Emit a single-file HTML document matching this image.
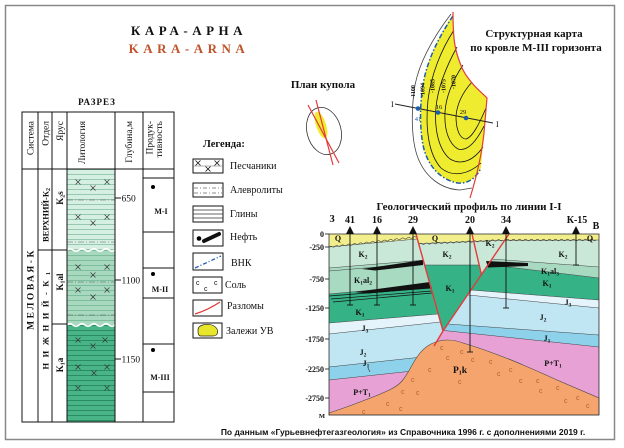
<!DOCTYPE html>
<html><head><meta charset="utf-8"><style>
html,body{margin:0;padding:0;background:#fff;}
svg{display:block;}
text{font-family:"Liberation Serif","DejaVu Serif",serif;fill:#111;}
.s{font-family:"Liberation Sans","DejaVu Sans",sans-serif;}
</style></head><body>
<svg width="624" height="448" viewBox="0 0 624 448" xmlns="http://www.w3.org/2000/svg">
<defs>
<pattern id="p1" x="0" y="169" width="48" height="5" patternUnits="userSpaceOnUse"><rect width="48" height="5" fill="#d6efe3"/><line x1="0" y1="0.5" x2="48" y2="0.5" stroke="#97c9b0" stroke-width="0.9"/></pattern>
<pattern id="p2" x="0" y="250" width="48" height="5" patternUnits="userSpaceOnUse"><rect width="48" height="5" fill="#a8d9bf"/><line x1="0" y1="0.5" x2="48" y2="0.5" stroke="#7bbd9c" stroke-width="0.9"/></pattern>
<pattern id="p3" x="0" y="325" width="48" height="5" patternUnits="userSpaceOnUse"><rect width="48" height="5" fill="#4ab489"/><line x1="0" y1="0.5" x2="48" y2="0.5" stroke="#2a8c63" stroke-width="0.9"/></pattern>
<clipPath id="cL"><polygon points="329,234 416,234 443,331 433,348 433,415 329,415"/></clipPath>
<clipPath id="cC"><polygon points="416,234 509,234 443,331"/></clipPath>
<clipPath id="cR"><polygon points="509,234 599,234 599,415 433,415 433,348 443,331"/></clipPath>
</defs>

<!-- frame -->
<rect x="5.5" y="5.5" width="609" height="434" fill="#fff" stroke="#888" stroke-width="1.5"/>

<!-- titles -->
<text x="189" y="35" text-anchor="middle" font-size="13" font-weight="bold" letter-spacing="4.5">КАРА-АРНА</text>
<text x="189" y="53" text-anchor="middle" font-size="13" font-weight="bold" letter-spacing="4.5" style="fill:#c0532b">KARA-ARNA</text>
<text x="97" y="105" text-anchor="middle" font-size="9" font-weight="bold" letter-spacing="1">РАЗРЕЗ</text>

<!-- lithology column fills -->
<rect x="67" y="169" width="48" height="81" fill="url(#p1)"/>
<rect x="67" y="250" width="48" height="75" fill="url(#p2)"/>
<rect x="67" y="325" width="48" height="97" fill="url(#p3)"/>
<path d="M67,250 q3,-2.5 6,0 t6,0 t6,0 t6,0 t6,0 t6,0 t6,0 t6,0" fill="none" stroke="#fff" stroke-width="1.6"/>
<path d="M67,325 q3,-2.5 6,0 t6,0 t6,0 t6,0 t6,0 t6,0 t6,0 t6,0" fill="none" stroke="#fff" stroke-width="1.6"/>
<g stroke="#5a5a5a" stroke-width="0.6" stroke-dasharray="6 2 1 2">
<line x1="67" y1="200" x2="115" y2="200"/><line x1="67" y1="242" x2="115" y2="242"/>
<line x1="67" y1="282" x2="115" y2="282"/><line x1="67" y1="315" x2="115" y2="315"/>
</g>
<path stroke="#333" stroke-width="0.7" fill="none" d="M75.5,179.5l5,5m0,-5l-5,5 M104.5,179.5l5,5m0,-5l-5,5 M90.5,185.5l5,5m0,-5l-5,5 M75.5,214.5l5,5m0,-5l-5,5 M104.5,214.5l5,5m0,-5l-5,5 M90.5,220.5l5,5m0,-5l-5,5 M75.5,264.5l5,5m0,-5l-5,5 M104.5,264.5l5,5m0,-5l-5,5 M90.5,272.5l5,5m0,-5l-5,5 M75.5,287.5l5,5m0,-5l-5,5 M104.5,287.5l5,5m0,-5l-5,5 M90.5,294.5l5,5m0,-5l-5,5 M75.5,337.5l5,5m0,-5l-5,5 M102.5,337.5l5,5m0,-5l-5,5 M90.5,343.5l5,5m0,-5l-5,5 M75.5,364.5l5,5m0,-5l-5,5 M104.5,364.5l5,5m0,-5l-5,5 M91.5,370.5l5,5m0,-5l-5,5 M75.5,385.5l5,5m0,-5l-5,5 M104.5,385.5l5,5m0,-5l-5,5"/>

<!-- table lines -->
<g stroke="#111" stroke-width="1" fill="none">
<rect x="22" y="112" width="152" height="310"/>
<line x1="38" y1="112" x2="38" y2="422"/><line x1="52" y1="112" x2="52" y2="422"/>
<line x1="67" y1="112" x2="67" y2="422"/><line x1="115" y1="112" x2="115" y2="422"/>
<line x1="143" y1="112" x2="143" y2="422"/>
<line x1="22" y1="169" x2="174" y2="169"/>
<line x1="38" y1="250" x2="67" y2="250"/><line x1="52" y1="324" x2="67" y2="324"/>
<line x1="143" y1="178" x2="174" y2="178"/><line x1="143" y1="232" x2="174" y2="232"/>
<line x1="143" y1="268" x2="174" y2="268"/><line x1="143" y1="298" x2="174" y2="298"/>
<line x1="143" y1="344" x2="174" y2="344"/><line x1="143" y1="392" x2="174" y2="392"/>
<line x1="115" y1="198" x2="121" y2="198"/><line x1="115" y1="280" x2="121" y2="280"/><line x1="115" y1="359" x2="121" y2="359"/>
</g>
<!-- header texts -->
<g font-size="9.5" text-anchor="end">
<text transform="translate(33.5,121) rotate(-90)">Система</text>
<text transform="translate(48.5,121) rotate(-90)">Отдел</text>
<text transform="translate(63,121) rotate(-90)">Ярус</text>
<text transform="translate(85,121) rotate(-90)">Литология</text>
<text transform="translate(132,121) rotate(-90)">Глубина,м</text>
<text transform="translate(152.5,121) rotate(-90)">Продук-</text>
<text transform="translate(162,121) rotate(-90)">тивность</text>
</g>
<g font-weight="bold" text-anchor="middle">
<text transform="translate(33.5,289) rotate(-90)" font-size="9.5" letter-spacing="2.5">МЕЛОВАЯ-К</text>
<text transform="translate(48.5,215) rotate(-90)" font-size="8.5">ВЕРХНИЙ-К<tspan font-size="6" dy="1.5">2</tspan></text>
<text transform="translate(48.5,318) rotate(-90)" font-size="8.5" letter-spacing="5.5">НИЖНИЙ-К<tspan font-size="6" dy="1.5">1</tspan></text>
<text transform="translate(63,198) rotate(-90)" font-size="9">K<tspan font-size="6" dy="1.5">2</tspan><tspan dy="-1.5">s</tspan></text>
<text transform="translate(63,282) rotate(-90)" font-size="9">K<tspan font-size="6" dy="1.5">1</tspan><tspan dy="-1.5">al</tspan></text>
<text transform="translate(63,365) rotate(-90)" font-size="9">K<tspan font-size="6" dy="1.5">1</tspan><tspan dy="-1.5">a</tspan></text>
</g>
<g font-size="9.5">
<text x="121.5" y="201.5">650</text>
<text x="121.5" y="283.5">1100</text>
<text x="121.5" y="362.5">1150</text>
</g>
<g font-size="8" font-weight="bold" text-anchor="middle">
<text x="161" y="214">М-I</text>
<text x="160" y="292">М-II</text>
<text x="160" y="380">М-III</text>
</g>
<circle cx="153" cy="187" r="2"/><circle cx="153" cy="274" r="2"/><circle cx="153" cy="350" r="2"/>

<!-- legend -->
<text x="203" y="147" font-size="10.5" font-weight="bold">Легенда:</text>
<g fill="#fff" stroke="#111" stroke-width="1">
<rect x="193" y="159" width="30" height="14"/>
<rect x="193" y="183" width="30" height="14"/>
<rect x="193" y="206" width="30" height="16"/>
<rect x="193" y="230" width="30" height="16"/>
<rect x="193" y="253" width="30" height="17"/>
<rect x="193" y="277" width="29" height="16"/>
<rect x="193" y="300" width="29" height="16"/>
<rect x="193" y="323" width="29" height="15"/>
</g>
<line x1="193" y1="166" x2="223" y2="166" stroke="#666" stroke-width="0.5"/>
<path stroke="#111" stroke-width="0.8" fill="none" d="M195.5,160.5l5,5m0,-5l-5,5 M214.5,160.5l5,5m0,-5l-5,5 M205.5,166.5l5,5m0,-5l-5,5"/>
<g stroke="#666" stroke-width="0.7" stroke-dasharray="4 2 1 2"><line x1="194" y1="188" x2="222" y2="188"/><line x1="194" y1="193" x2="222" y2="193"/></g>
<g stroke="#333" stroke-width="0.8"><line x1="193" y1="210" x2="223" y2="210"/><line x1="193" y1="214" x2="223" y2="214"/><line x1="193" y1="218" x2="223" y2="218"/></g>
<circle cx="199" cy="238.5" r="2.3"/>
<line x1="204" y1="241" x2="219" y2="234" stroke="#111" stroke-width="4" stroke-linecap="round"/>
<line x1="195" y1="268" x2="221" y2="256" stroke="#1d5ca8" stroke-width="1.3" stroke-dasharray="4 2 1 2"/>
<g class="s" font-size="7"><text x="196" y="285" class="s">c</text><text x="204" y="291" class="s">c</text><text x="214" y="285" class="s">c</text></g>
<path d="M195,314 Q208,310 220,302" stroke="#e23b3b" stroke-width="1.3" fill="none"/>
<path d="M198,330 C198,324 209,323 214,326 C219,329 219,336 213,336 L201,336 C198,336 198,333 198,330 Z" fill="#e8e62a" stroke="#222" stroke-width="0.7"/>
<g font-size="10">
<text x="230" y="169">Песчаники</text>
<text x="230" y="193">Алевролиты</text>
<text x="230" y="217">Глины</text>
<text x="230" y="240">Нефть</text>
<text x="231" y="266">ВНК</text>
<text x="225" y="288">Соль</text>
<text x="227" y="309">Разломы</text>
<text x="226" y="334">Залежи УВ</text>
</g>

<!-- plan dome -->
<text x="323" y="88" text-anchor="middle" font-size="11" font-weight="bold">План купола</text>
<ellipse cx="324" cy="131" rx="17" ry="24" transform="rotate(-15 324 131)" fill="none" stroke="#333" stroke-width="0.8"/>
<ellipse cx="321" cy="125" rx="5" ry="14" transform="rotate(-18 321 125)" fill="#efec30"/>
<line x1="308" y1="105" x2="339" y2="163" stroke="#e23b3b" stroke-width="1.2"/>
<line x1="316" y1="100" x2="333" y2="165" stroke="#e23b3b" stroke-width="1.2"/>

<!-- structural map -->
<text x="534" y="37" text-anchor="middle" font-size="11" font-weight="bold">Структурная карта</text>
<text x="536" y="51" text-anchor="middle" font-size="11" font-weight="bold">по кровле М-III горизонта</text>
<path d="M453,14 C440,35 430,55 425,75 C420,95 419,125 423,145 C427,165 440,180 458,183 C468,184 476,178 481,168 C482,155 483,145 484,133 L487,98 C480,92 476,88 472,83 C466,76 462,70 460,63 C455,50 453,40 453,14 Z" fill="#efec30"/>
<path d="M451,14 C435,35 420,60 415,85 C411,110 411,140 418,158 C425,176 440,189 460,190 L472,188" fill="none" stroke="#444" stroke-width="0.8"/>
<g fill="none" stroke="#111" stroke-width="0.8">
<path d="M454,30 C441,50 431,75 428,100 C425,130 429,155 441,168 C453,178 469,174 481,163"/>
<path d="M457,47 C446,67 438,87 436,107 C434,130 439,150 450,159 C462,166 474,160 483,147"/>
<path d="M463,65 C453,80 446,96 445,112 C444,130 449,144 458,149 C468,152 477,140 484,126"/>
<path d="M472,82 C463,92 457,104 456,116 C456,130 460,139 466,139 C473,137 480,122 486,108"/>
</g>
<path d="M453,16 C440,35 430,55 425,75 C420,95 419,125 423,145 C427,165 440,180 458,183 C468,184 476,178 481,168" fill="none" stroke="#1d5ca8" stroke-width="1.5" stroke-dasharray="5 2 1.5 2"/>
<path d="M453,12 C453,40 455,50 460,63 C463,72 468,78 472,83 C477,89 482,93 487,98 L484,133 C482,152 478,172 470,198" fill="none" stroke="#e23b3b" stroke-width="1.2"/>
<g font-size="6" font-weight="bold" text-anchor="middle">
<text transform="translate(415,92) rotate(-90)">-1100</text>
<text transform="translate(424.5,90) rotate(-90)">-1094</text>
<text transform="translate(434.5,86) rotate(-90)">-1085</text>
<text transform="translate(445.5,86) rotate(-90)">-1075</text>
<text transform="translate(455.5,82) rotate(-90)">-1070</text>
</g>
<line x1="395" y1="104" x2="493" y2="123" stroke="#222" stroke-width="0.9"/>
<text x="391" y="107" font-size="8">I</text>
<text x="496" y="127" font-size="8">I</text>
<circle cx="418" cy="108.5" r="2.3" fill="#1d5ca8"/>
<circle cx="438" cy="112.5" r="2.3" fill="#1d5ca8"/>
<circle cx="466" cy="118" r="2.3" fill="#1d5ca8"/>
<text x="418" y="121" font-size="6.5" text-anchor="middle" style="fill:#1d5ca8">41</text>
<text x="439" y="109" font-size="6.5" text-anchor="middle">16</text>
<text x="463" y="114" font-size="6.5" text-anchor="middle">29</text>

<!-- geological profile -->
<text x="469" y="210" text-anchor="middle" font-size="11" font-weight="bold">Геологический профиль по линии I-I</text>

<g clip-path="url(#cL)" stroke="#444" stroke-width="0.5">
<rect x="329" y="234" width="125" height="181" fill="#f3ee8c" stroke="none"/>
<polygon points="329,247 450,236 450,420 329,420" fill="#c9e8d8"/>
<polygon points="329,268 450,258 450,420 329,420" fill="#a8dac2"/>
<line x1="329" y1="271" x2="450" y2="261"/>
<polygon points="329,294 450,283 450,420 329,420" fill="#36b287"/>
<polygon points="329,323 450,313 450,420 329,420" fill="#e4f4fa"/>
<polygon points="329,334 450,321 450,420 329,420" fill="#c0e5f3"/>
<polygon points="329,367 450,354 450,420 329,420" fill="#8dd2ea"/>
<polygon points="329,380 450,367 450,420 329,420" fill="#e7a1d5"/>
</g>
<g clip-path="url(#cC)" stroke="#444" stroke-width="0.5">
<rect x="410" y="234" width="105" height="100" fill="#f3ee8c" stroke="none"/>
<polygon points="410,244 510,240 510,340 410,340" fill="#c9e8d8"/>
<polygon points="410,265 479.5,265 481.5,275 440,336 410,336" fill="#36b287"/>
</g>
<g clip-path="url(#cR)" stroke="#444" stroke-width="0.5">
<rect x="430" y="234" width="170" height="181" fill="#f3ee8c" stroke="none"/>
<polygon points="430,241 599,240 599,420 430,420" fill="#c9e8d8"/>
<polygon points="430,254.4 599,267 599,420 430,420" fill="#a8dac2"/>
<polygon points="430,257.6 599,278 599,420 430,420" fill="#36b287"/>
<polygon points="430,286.8 599,300 599,420 430,420" fill="#e4f4fa"/>
<polygon points="430,291.2 599,308 599,420 430,420" fill="#c0e5f3"/>
<polygon points="430,322.7 599,335 599,420 430,420" fill="#8dd2ea"/>
<polygon points="430,329 599,347 599,420 430,420" fill="#e7a1d5"/>
</g>
<!-- wavy Q bottoms -->
<g fill="none" stroke="#444" stroke-width="0.6">
<path d="M329,247 q1.5,-1.5 3,-0.34 t3,-0.34 t3,-0.34 t3,-0.34 t3,-0.34 t3,-0.34 t3,-0.34 t3,-0.34 t3,-0.34 t3,-0.34 t3,-0.34 t3,-0.34 t3,-0.34 t3,-0.34 t3,-0.34 t3,-0.34 t3,-0.34 t3,-0.34 t3,-0.34 t3,-0.34 t3,-0.34 t3,-0.34 t3,-0.34 t3,-0.34 t3,-0.34 t3,-0.34 t3,-0.34 t3,-0.34 t3,-0.34"/>
<path d="M419,244 q1.5,-1.5 3,-0.14 t3,-0.14 t3,-0.14 t3,-0.14 t3,-0.14 t3,-0.14 t3,-0.14 t3,-0.14 t3,-0.14 t3,-0.14 t3,-0.14 t3,-0.14 t3,-0.14 t3,-0.14 t3,-0.14 t3,-0.14 t3,-0.14 t3,-0.14 t3,-0.14 t3,-0.14 t3,-0.14 t3,-0.14 t3,-0.14 t3,-0.14 t3,-0.14 t3,-0.14 t3,-0.14 t3,-0.14"/>
<path d="M506,240 q1.5,-1.5 3,0 t3,0 t3,0 t3,0 t3,0 t3,0 t3,0 t3,0 t3,0 t3,0 t3,0 t3,0 t3,0 t3,0 t3,0 t3,0 t3,0 t3,0 t3,0 t3,0 t3,0 t3,0 t3,0 t3,0 t3,0 t3,0 t3,0 t3,0 t3,0 t3,0"/>
</g>
<!-- salt -->
<path d="M329,413 C345,408 360,402 373,397 C388,391 397,387 402,381 C408,374 411,366 417,357 C421,351 425,347 431,344 C437,341 442,340 447,340 C453,340 458,341 463,343 C473,346 482,349 490,352 C501,356 512,360 523,365 C535,370 546,375 557,380 C571,386 585,392 599,398 L599,415 L329,415 Z" fill="#f5a46d" stroke="#444" stroke-width="0.6"/>
<g class="s" font-size="7" style="fill:#b0602a">
<text class="s" x="440" y="350" style="fill:#b0602a">c</text><text class="s" x="460" y="354" style="fill:#b0602a">c</text>
<text class="s" x="446" y="360" style="fill:#b0602a">c</text><text class="s" x="471" y="362" style="fill:#b0602a">c</text>
<text class="s" x="428" y="372" style="fill:#b0602a">c</text><text class="s" x="411" y="382" style="fill:#b0602a">c</text>
<text class="s" x="489" y="364" style="fill:#b0602a">c</text><text class="s" x="509" y="372" style="fill:#b0602a">c</text>
<text class="s" x="497" y="376" style="fill:#b0602a">c</text><text class="s" x="519" y="383" style="fill:#b0602a">c</text>
<text class="s" x="536" y="383" style="fill:#b0602a">c</text><text class="s" x="556" y="390" style="fill:#b0602a">c</text>
<text class="s" x="539" y="393" style="fill:#b0602a">c</text><text class="s" x="416" y="395" style="fill:#b0602a">c</text>
<text class="s" x="401" y="394" style="fill:#b0602a">c</text><text class="s" x="386" y="406" style="fill:#b0602a">c</text>
<text class="s" x="399" y="411" style="fill:#b0602a">c</text><text class="s" x="362" y="414" style="fill:#b0602a">c</text>
<text class="s" x="564" y="403" style="fill:#b0602a">c</text><text class="s" x="576" y="400" style="fill:#b0602a">c</text>
<text class="s" x="586" y="408" style="fill:#b0602a">c</text><text class="s" x="458" y="384" style="fill:#b0602a">c</text>
</g>
<!-- oil lenses -->
<polygon points="362,269 423,260 423,265 375,270.5" fill="#111"/>
<polygon points="355,292 430,282 430,288 368,293.5" fill="#111"/>
<g stroke="#111" stroke-width="0.7"><line x1="329" y1="296" x2="432" y2="288"/><line x1="331" y1="299" x2="432" y2="291"/><line x1="333" y1="302" x2="432" y2="293"/></g>
<polygon points="486,261 528,263 528,266 488,267.5" fill="#111"/>
<!-- faults -->
<g stroke="#e23b3b" stroke-width="1.4" fill="none">
<line x1="416" y1="234" x2="443" y2="331"/>
<line x1="509" y1="234" x2="443" y2="331"/>
<line x1="472" y1="234" x2="481.5" y2="275"/>
<line x1="443" y1="331" x2="434" y2="346"/>
</g>
<!-- wells -->
<g stroke="#111" stroke-width="0.9">
<line x1="350" y1="234" x2="350" y2="305"/><line x1="347" y1="305" x2="353" y2="305"/>
<line x1="377" y1="234" x2="377" y2="305"/><line x1="374" y1="305" x2="380" y2="305"/>
<line x1="413" y1="234" x2="413" y2="305"/><line x1="410" y1="305" x2="416" y2="305"/>
<line x1="470" y1="234" x2="470" y2="352"/><line x1="467" y1="352" x2="473" y2="352"/>
<line x1="506" y1="234" x2="506" y2="308"/><line x1="503" y1="308" x2="509" y2="308"/>
<line x1="576" y1="234" x2="576" y2="265"/><line x1="573" y1="265" x2="579" y2="265"/>
</g>
<rect x="329" y="234" width="270" height="181" fill="none" stroke="#333" stroke-width="0.8"/>
<g fill="#111">
<polygon points="346,234 354,234 350,226"/><polygon points="373,234 381,234 377,226"/>
<polygon points="409,234 417,234 413,226"/><polygon points="466,234 474,234 470,226"/>
<polygon points="502,234 510,234 506,226"/><polygon points="572,234 580,234 576,226"/>
</g>
<g font-size="10" font-weight="bold" text-anchor="middle">
<text x="350" y="223">41</text><text x="377" y="223">16</text><text x="413" y="223">29</text>
<text x="470" y="223">20</text><text x="506" y="223">34</text><text x="577" y="223">К-15</text>
<text x="332" y="222">З</text><text x="596" y="229">В</text>
</g>
<!-- depth scale -->
<g stroke="#111" stroke-width="0.8">
<line x1="325" y1="234" x2="329" y2="234"/><line x1="325" y1="247" x2="329" y2="247"/>
<line x1="325" y1="279" x2="329" y2="279"/><line x1="325" y1="308" x2="329" y2="308"/>
<line x1="325" y1="339" x2="329" y2="339"/><line x1="325" y1="369" x2="329" y2="369"/>
<line x1="325" y1="398" x2="329" y2="398"/>
</g>
<g font-size="8" font-weight="bold" text-anchor="end">
<text x="324" y="237">0</text><text x="324" y="250">-250</text><text x="324" y="282">-750</text>
<text x="324" y="311">-1250</text><text x="324" y="342">-1750</text><text x="324" y="372">-2250</text>
<text x="324" y="401">-2750</text><text x="325" y="418" font-size="6.5">М</text>
</g>
<!-- layer labels -->
<g font-size="8" font-weight="bold" text-anchor="middle">
<text x="338" y="241">Q</text><text x="435" y="241">Q</text><text x="590" y="241">Q</text>
<text x="363" y="257">K<tspan font-size="5.5" dy="1.5">2</tspan></text>
<text x="447" y="257">K<tspan font-size="5.5" dy="1.5">2</tspan></text>
<text x="490" y="246">K<tspan font-size="5.5" dy="1.5">2</tspan></text>
<text x="563" y="257">K<tspan font-size="5.5" dy="1.5">2</tspan></text>
<text x="363" y="283">K<tspan font-size="5.5" dy="1.5">1</tspan><tspan dy="-1.5">al</tspan><tspan font-size="5.5" dy="1.5">2</tspan></text>
<text x="550" y="274">K<tspan font-size="5.5" dy="1.5">1</tspan><tspan dy="-1.5">al</tspan><tspan font-size="5.5" dy="1.5">3</tspan></text>
<text x="360" y="315">K<tspan font-size="5.5" dy="1.5">1</tspan></text>
<text x="450" y="291">K<tspan font-size="5.5" dy="1.5">1</tspan></text>
<text x="547" y="286">K<tspan font-size="5.5" dy="1.5">1</tspan></text>
<text x="365" y="331">J<tspan font-size="5.5" dy="1.5">3</tspan></text>
<text x="568" y="305">J<tspan font-size="5.5" dy="1.5">3</tspan></text>
<text x="363" y="355">J<tspan font-size="5.5" dy="1.5">2</tspan></text>
<text x="543" y="320">J<tspan font-size="5.5" dy="1.5">2</tspan></text>
<text x="366" y="366">J<tspan font-size="5.5" dy="1.5">1</tspan></text>
<text x="547" y="341">J<tspan font-size="5.5" dy="1.5">1</tspan></text>
<text x="362" y="395">P+T<tspan font-size="5.5" dy="1.5">1</tspan></text>
<text x="553" y="366">P+T<tspan font-size="5.5" dy="1.5">1</tspan></text>
<text x="460" y="373" font-size="9.5">P<tspan font-size="6" dy="1.5">1</tspan><tspan dy="-1.5">k</tspan></text>
</g>
<line x1="368" y1="368" x2="370" y2="372" stroke="#333" stroke-width="0.6"/>

<!-- caption -->
<text class="s" x="403" y="435" text-anchor="middle" font-size="8.5" font-weight="bold">По данным «Гурьевнефтегазгеология» из Справочника 1996 г. с дополнениями 2019 г.</text>
</svg>
</body></html>
